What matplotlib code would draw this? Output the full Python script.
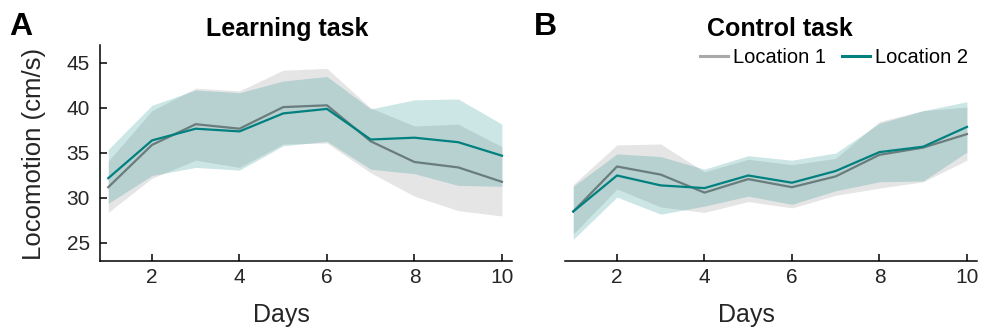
import numpy as np
import matplotlib
matplotlib.use("Agg")
import matplotlib.pyplot as plt
from matplotlib.lines import Line2D

plt.rcParams['font.family'] = ['Liberation Sans', 'DejaVu Sans']

days = np.arange(1, 11)

# Learning task: mean and shaded interval per location
learn_loc1 = [31.2, 35.9, 38.2, 37.7, 40.1, 40.3, 36.3, 34.0, 33.4, 31.8]
learn_loc1_hi = [34.1, 39.7, 42.2, 41.9, 44.2, 44.4, 40.0, 38.0, 38.2, 35.7]
learn_loc1_lo = [28.4, 32.2, 34.2, 33.4, 36.0, 36.1, 32.8, 30.2, 28.6, 28.0]
learn_loc2 = [32.2, 36.4, 37.7, 37.4, 39.4, 39.9, 36.5, 36.7, 36.2, 34.7]
learn_loc2_hi = [35.4, 40.3, 42.0, 41.7, 43.0, 43.5, 39.9, 40.9, 41.0, 38.2]
learn_loc2_lo = [29.4, 32.5, 33.4, 33.1, 35.8, 36.3, 33.2, 32.7, 31.4, 31.3]

# Control task
ctrl_loc1 = [28.5, 33.5, 32.6, 30.6, 32.1, 31.2, 32.4, 34.8, 35.6, 37.1]
ctrl_loc1_hi = [31.5, 35.9, 36.0, 32.9, 34.3, 33.7, 34.4, 38.5, 39.7, 40.1]
ctrl_loc1_lo = [26.0, 31.0, 29.0, 28.4, 29.6, 28.9, 30.3, 31.1, 31.8, 34.2]
ctrl_loc2 = [28.5, 32.5, 31.4, 31.1, 32.5, 31.7, 33.0, 35.1, 35.7, 37.9]
ctrl_loc2_hi = [31.3, 34.9, 34.6, 33.2, 34.7, 34.2, 35.0, 38.3, 39.7, 40.7]
ctrl_loc2_lo = [25.4, 30.1, 28.2, 29.1, 30.2, 29.3, 30.8, 31.8, 31.9, 35.1]

xticks = [2, 4, 6, 8, 10]
yticks = [25, 30, 35, 40, 45]

teal = '#00807f'
grey_line = '#6a7c7c'
grey_fill = '#e5e5e5'
text_col = '#262626'

W, H = 984, 330
fig = plt.figure(figsize=(W / 100, H / 100), dpi=100)
ax1 = fig.add_axes([99.5 / W, 1 - 261 / H, 412.5 / W, 216 / H])
ax2 = fig.add_axes([564.5 / W, 1 - 261 / H, 412.5 / W, 216 / H])


def draw(ax, m1, hi1, lo1, m2, hi2, lo2):
    ax.fill_between(days, lo1, hi1, color=grey_fill, lw=0, zorder=1)
    ax.fill_between(days, lo2, hi2, color=teal, alpha=0.2, lw=0, zorder=2)
    ax.plot(days, m1, color=grey_line, lw=1.6, zorder=3)
    ax.plot(days, m2, color=teal, lw=1.6, zorder=4)
    ax.set_xlim(0.8, 10.23)
    ax.set_ylim(23, 47)
    ax.set_xticks(xticks)
    ax.spines['top'].set_visible(False)
    ax.spines['right'].set_visible(False)
    for s in ax.spines.values():
        s.set_linewidth(1.1)
    ax.tick_params(direction='in', length=5, width=1.1, labelsize=15,
                   labelcolor=text_col)
    ax.tick_params(axis='x', pad=5)
    ax.tick_params(axis='y', pad=7)


draw(ax1, learn_loc1, learn_loc1_hi, learn_loc1_lo,
     learn_loc2, learn_loc2_hi, learn_loc2_lo)
draw(ax2, ctrl_loc1, ctrl_loc1_hi, ctrl_loc1_lo,
     ctrl_loc2, ctrl_loc2_hi, ctrl_loc2_lo)

ax1.set_yticks(yticks)
ax2.spines['left'].set_visible(False)
ax2.set_yticks([])

# axis labels
fig.text(34 / W, 1 - 154 / H, 'Locomotion (cm/s)', rotation=90,
         ha='center', va='center', fontsize=18.5, color=text_col)
fig.text(281.7 / W, 1 - 322 / H, 'Days', ha='center', va='baseline',
         fontsize=18, color=text_col)
fig.text(746.5 / W, 1 - 322 / H, 'Days', ha='center', va='baseline',
         fontsize=18, color=text_col)

# panel titles
fig.text(287.5 / W, 1 - 35.7 / H, 'Learning task', ha='center',
         va='baseline', fontsize=18, fontweight='bold')
fig.text(706.7 / W, 1 - 35.7 / H, 'Control task', ha='left',
         va='baseline', fontsize=18, fontweight='bold')

fig.text(9 / W, 1 - 35 / H, 'A', fontsize=23, fontweight='bold')
fig.text(534 / W, 1 - 35 / H, 'B', fontsize=23, fontweight='bold')

handles = [Line2D([], [], color='#a9a9a9', lw=2.2),
           Line2D([], [], color=teal, lw=2.2)]
ax2.legend(handles, ['Location 1', 'Location 2'], ncol=2, frameon=False,
           fontsize=14.5, loc='center right', bbox_to_anchor=(0.979, 0.942),
           handlelength=1.39, handletextpad=0.25, columnspacing=0.8,
           borderaxespad=0, borderpad=0)

fig.savefig('out.png', dpi=100)
